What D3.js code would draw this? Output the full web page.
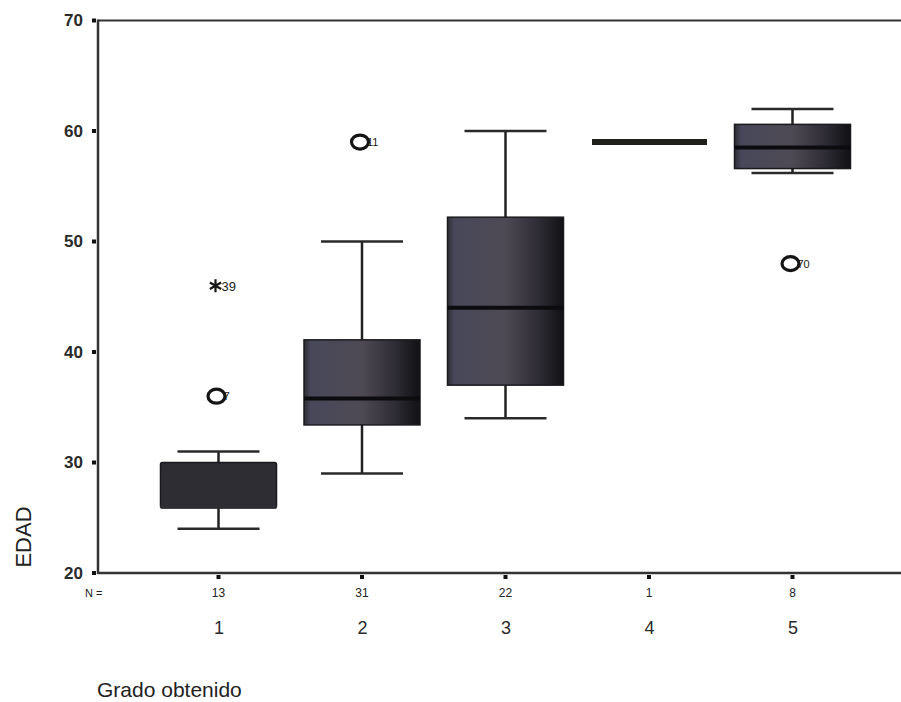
<!DOCTYPE html>
<html><head><meta charset="utf-8">
<script src="https://cdn.jsdelivr.net/npm/d3@7"></script>
<style>body{margin:0;background:#fff}svg{display:block;font-family:"Liberation Sans",Arial,sans-serif}</style>
</head><body>
<script>
const categories = ["1","2","3","4","5"];
const nValues = [13,31,22,1,8];
const q1 = [25.9,33.4,37,59,56.6];
const median = [26,35.8,44,59,58.5];
const q3 = [30,41.1,52.2,59,60.6];
const whiskLow = [24,29,34,59,56.2];
const whiskHigh = [31,50,60,59,62];
const outliers = [
  {cat:"1", value:36, label:"7", type:"circle"},
  {cat:"1", value:46, label:"39", type:"star"},
  {cat:"2", value:59, label:"11", type:"circle"},
  {cat:"5", value:48, label:"70", type:"circle"}
];
const yTicks = [20,30,40,50,60,70];

const W=901,H=702;
const svg=d3.select("body").append("svg").attr("width",W).attr("height",H);
const y=d3.scaleLinear().domain([20,70]).range([573,20.5]);
const x=d3.scalePoint().domain(categories).range([218.5,792.5]);
const boxW=116, capW=82;

const defs=svg.append("defs");
const g=defs.append("linearGradient").attr("id","boxg").attr("x1","0").attr("x2","1").attr("y1","0").attr("y2","0");
g.append("stop").attr("offset","0").attr("stop-color","#2e2e36");
g.append("stop").attr("offset","0.06").attr("stop-color","#48485a");
g.append("stop").attr("offset","0.5").attr("stop-color","#4e4a54");
g.append("stop").attr("offset","0.8").attr("stop-color","#2c2a32");
g.append("stop").attr("offset","1").attr("stop-color","#111114");

const axisCol="#333";
svg.append("line").attr("x1",98).attr("x2",W).attr("y1",y(70)).attr("y2",y(70)).attr("stroke",axisCol).attr("stroke-width",2);
svg.append("line").attr("x1",98).attr("x2",W).attr("y1",y(20)).attr("y2",y(20)).attr("stroke",axisCol).attr("stroke-width",2.5);
svg.append("line").attr("x1",98).attr("x2",98).attr("y1",y(70)-1).attr("y2",y(20)+1).attr("stroke",axisCol).attr("stroke-width",2.5);

const yAxis=svg.append("g").attr("transform","translate(96,0)")
  .call(d3.axisLeft(y).tickValues(yTicks).tickSize(0).tickPadding(13));
yAxis.select(".domain").remove();
yAxis.selectAll("text").attr("font-size",17).attr("font-weight","bold").attr("fill","#2a2a2a").attr("font-family","Liberation Sans, Arial, sans-serif");
svg.selectAll(".ytick").data(yTicks).enter().append("rect")
  .attr("x",92).attr("y",d=>y(d)-2).attr("width",4).attr("height",4).attr("fill","#111");

svg.selectAll(".xtick").data(categories).enter().append("rect")
  .attr("x",d=>x(d)-2).attr("y",575).attr("width",4).attr("height",4).attr("fill","#111");

const xAxis=svg.append("g").attr("transform","translate(0,621)")
  .call(d3.axisBottom(x).tickSize(0).tickPadding(0));
xAxis.select(".domain").remove();
xAxis.selectAll("text").attr("font-size",18).attr("fill","#2a2a2a").attr("font-family","Liberation Sans, Arial, sans-serif");

svg.append("text").attr("x",85).attr("y",597).attr("font-size",11).attr("fill","#222").text("N =");
svg.selectAll(".nlab").data(categories).enter().append("text")
  .attr("x",d=>x(d)).attr("y",597).attr("text-anchor","middle").attr("font-size",12).attr("fill","#222")
  .text((d,i)=>nValues[i]);

categories.forEach((c,i)=>{
  const cx=x(c);
  const gg=svg.append("g");
  if(q3[i]>q1[i]){
    gg.append("line").attr("x1",cx).attr("x2",cx).attr("y1",y(whiskHigh[i])).attr("y2",y(q3[i])).attr("stroke","#222").attr("stroke-width",2.5);
    gg.append("line").attr("x1",cx).attr("x2",cx).attr("y1",y(q1[i])).attr("y2",y(whiskLow[i])).attr("stroke","#222").attr("stroke-width",2.5);
    gg.append("line").attr("x1",cx-capW/2).attr("x2",cx+capW/2).attr("y1",y(whiskHigh[i])).attr("y2",y(whiskHigh[i])).attr("stroke","#2a2a2a").attr("stroke-width",2.5);
    gg.append("line").attr("x1",cx-capW/2).attr("x2",cx+capW/2).attr("y1",y(whiskLow[i])).attr("y2",y(whiskLow[i])).attr("stroke","#2a2a2a").attr("stroke-width",2.5);
    gg.append("rect").attr("x",cx-boxW/2).attr("y",y(q3[i])).attr("width",boxW).attr("height",y(q1[i])-y(q3[i]))
      .attr("fill",i===0?"#2d2d33":"url(#boxg)").attr("stroke","#1a1a1e").attr("stroke-width",1.5).attr("rx",i===0?2:0);
    gg.append("line").attr("x1",cx-boxW/2).attr("x2",cx+boxW/2).attr("y1",y(median[i])).attr("y2",y(median[i]))
      .attr("stroke",i===0?"#2d2d33":"#0c0c0e").attr("stroke-width",4);
  } else {
    gg.append("line").attr("x1",cx-boxW/2+1).attr("x2",cx+boxW/2).attr("y1",y(median[i])).attr("y2",y(median[i]))
      .attr("stroke","#1f1f1c").attr("stroke-width",6);
  }
});

outliers.forEach(o=>{
  const cx=x(o.cat), cy=y(o.value);
  if(o.type==="circle"){
    svg.append("ellipse").attr("cx",cx-2).attr("cy",cy).attr("rx",8.5).attr("ry",7).attr("fill","none").attr("stroke","#151515").attr("stroke-width",3.2);
    svg.append("text").attr("x",cx+5).attr("y",cy+4).attr("font-size",11).attr("fill","#1a1a1a").text(o.label);
  } else {
    svg.append("path").attr("transform",`translate(${cx-3},${cy})`)
      .attr("d",d3.symbol(d3.symbolAsterisk,120)()).attr("fill","none").attr("stroke","#151515").attr("stroke-width",2.2);
    svg.append("text").attr("x",cx+3).attr("y",cy+5).attr("font-size",13).attr("fill","#1a1a1a").text(o.label);
  }
});

svg.append("text").attr("transform","translate(31,537) rotate(-90)").attr("text-anchor","middle")
  .attr("font-size",22).attr("fill","#222").text("EDAD");
svg.append("text").attr("x",97).attr("y",697).attr("font-size",21).attr("fill","#222").text("Grado obtenido");
</script>
</body></html>
